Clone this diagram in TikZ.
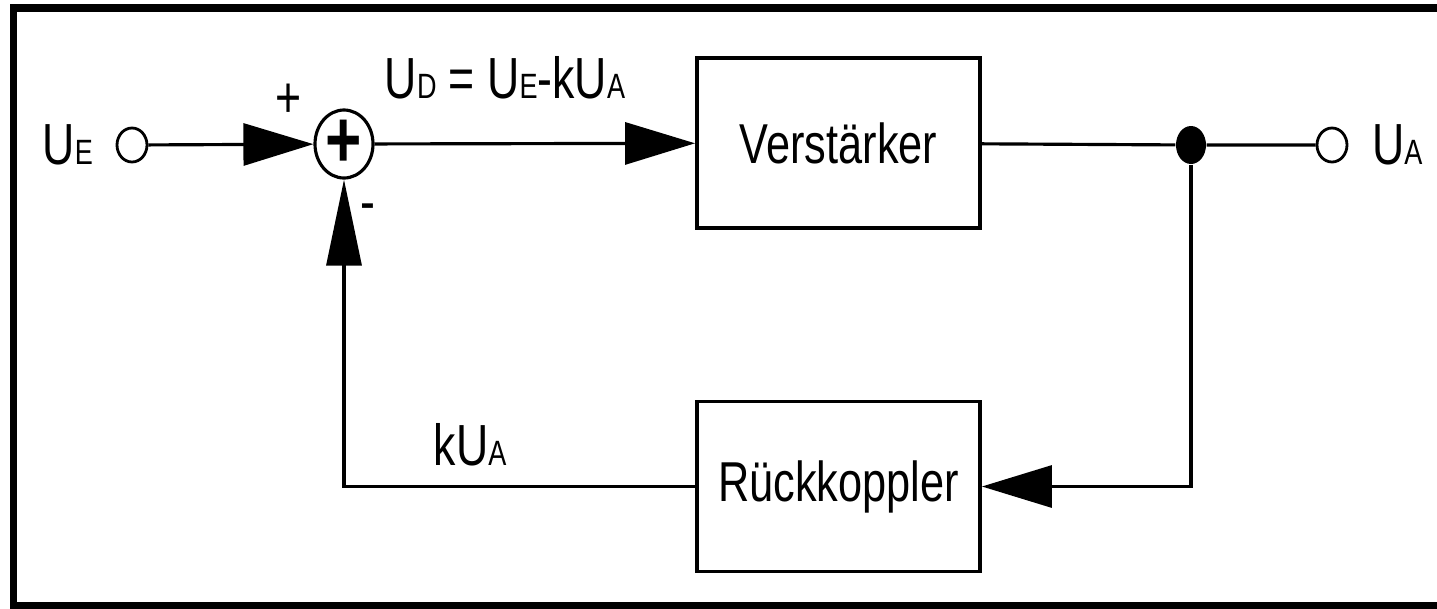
\documentclass[tikz,border=0pt]{standalone}
\usepackage{fontspec}
\setmainfont{Liberation Sans}[FakeStretch=0.77]
\usetikzlibrary{arrows.meta,positioning,shapes.geometric}
\newcommand\idx[1]{{\fontsize{10}{10}\selectfont #1}}

\begin{document}
\begin{tikzpicture}[
    block/.style ={rectangle, draw, line width=1.1pt, minimum width=2.83cm,
                   minimum height=1.7cm, font=\fontsize{16}{19}\selectfont},
    terminal/.style ={ellipse, draw, line width=0.8pt, minimum width=0.3cm,
                      minimum height=0.34cm, inner sep=0pt},
    junction/.style ={ellipse, fill, minimum width=0.3cm, minimum height=0.38cm, inner sep=0pt},
    summer/.style ={ellipse, draw, line width=0.9pt, minimum width=0.58cm, minimum height=0.68cm,
                    inner sep=0pt, font=\fontsize{23}{23}\bfseries\selectfont},
    voltage/.style ={inner sep=0pt, font=\fontsize{16.5}{19}\selectfont},
    wire/.style ={line width=0.9pt},
    fwd/.style ={wire, -{Triangle[length=0.70cm, width=0.42cm]}},
    rise/.style ={wire, -{Triangle[length=0.86cm, width=0.35cm]}}]
   \useasboundingbox (0,0) rectangle (14.37,6.08);
   \draw[line width=2pt] (0.135,0.02) rectangle (15,6.0);

   \node[terminal] (in) at (1.32,4.63) {};
   \node[summer] (sum) at (3.44,4.64) {+};
   \node[block] (amp) at (8.385,4.65) {Verstärker};
   \node[junction] (dot) at (11.91,4.63) {};
   \node[terminal] (out) at (13.32,4.63) {};
   \node[block] (fb) at (8.385,1.215) {Rückkoppler};

   \node[voltage, left=0.22cm of in] (UE) {U\idx{E}};
   \node[voltage, right=0.23cm of out] (UA) {U\idx{A}};
   \node[voltage, anchor=base] (UD) at (5.05,5.10) {U\idx{D} = U\idx{E}-kU\idx{A}};
   \node[voltage, anchor=base] (kUA) at (4.70,1.43) {kU\idx{A}};
   \node[voltage] (plus) at (2.89,5.07) {+};
   \node[voltage] (minus) at (3.68,3.95) {-};

   \draw[fwd] (in) -- (sum);
   \draw[fwd] (sum) -- (amp);
   \draw[wire] (amp) -- (dot) -- (out);
   \draw[fwd] (dot) |- (fb);
   \draw[rise] (fb) -| (sum);
 \end{tikzpicture}
\end{document}
